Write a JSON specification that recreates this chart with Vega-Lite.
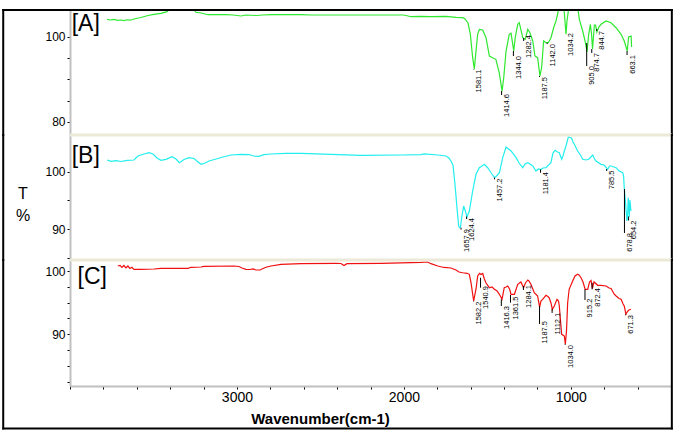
{
  "$schema": "https://vega.github.io/schema/vega-lite/v6.json",
  "padding": {"left": 1, "top": 8, "right": 0, "bottom": 0},
  "background": "white",
  "config": {"view": {"stroke": null}, "font": "Liberation Sans", "axis": {"labelOverlap": false, "labelBound": false, "labelFlush": false}},
  "spacing": 0,
  "bounds": "flush",
  "resolve": {"scale": {"y": "independent"}},
  "datasets": {
    "lineA": [
      {"wn":3778,"t":104.16},{"wn":3760,"t":104.0},{"wn":3736,"t":104.12},{"wn":3715,"t":103.9},{"wn":3695,"t":104.0},{"wn":3675,"t":103.85},{"wn":3659,"t":104.05},{"wn":3640,"t":103.95},{"wn":3617,"t":104.23},{"wn":3575,"t":104.59},{"wn":3533,"t":105.06},{"wn":3497,"t":105.34},{"wn":3455,"t":105.57},{"wn":3419,"t":105.95},{"wn":3395,"t":106.8},{"wn":3335,"t":107.3},{"wn":3263,"t":106.8},{"wn":3245,"t":105.81},{"wn":3215,"t":105.64},{"wn":3173,"t":105.24},{"wn":3125,"t":105.24},{"wn":3066,"t":105.24},{"wn":3024,"t":105.17},{"wn":2976,"t":104.94},{"wn":2946,"t":105.17},{"wn":2886,"t":105.06},{"wn":2844,"t":105.17},{"wn":2796,"t":105.24},{"wn":2616,"t":105.24},{"wn":2556,"t":105.17},{"wn":2377,"t":105.17},{"wn":2000,"t":105.17},{"wn":1957,"t":104.77},{"wn":1900,"t":104.85},{"wn":1838,"t":104.77},{"wn":1748,"t":104.87},{"wn":1688,"t":104.63},{"wn":1646,"t":104.54},{"wn":1634,"t":104.23},{"wn":1616,"t":103.29},{"wn":1602,"t":100.7},{"wn":1588,"t":95.13},{"wn":1578,"t":92.47},{"wn":1571,"t":95.53},{"wn":1558,"t":100.7},{"wn":1548,"t":101.76},{"wn":1528,"t":101.64},{"wn":1508,"t":99.83},{"wn":1488,"t":95.53},{"wn":1469,"t":95.13},{"wn":1449,"t":94.75},{"wn":1429,"t":91.6},{"wn":1412,"t":87.29},{"wn":1402,"t":90.42},{"wn":1388,"t":96.7},{"wn":1369,"t":100.63},{"wn":1358,"t":100.87},{"wn":1342,"t":96.7},{"wn":1333,"t":99.83},{"wn":1318,"t":102.99},{"wn":1309,"t":103.36},{"wn":1288,"t":99.83},{"wn":1273,"t":99.46},{"wn":1258,"t":101.81},{"wn":1245,"t":101.01},{"wn":1228,"t":99.06},{"wn":1215,"t":95.53},{"wn":1199,"t":95.13},{"wn":1185,"t":90.82},{"wn":1175,"t":92.77},{"wn":1163,"t":99.06},{"wn":1149,"t":98.66},{"wn":1135,"t":98.66},{"wn":1119,"t":99.83},{"wn":1103,"t":102.18},{"wn":1089,"t":103.76},{"wn":1075,"t":106.11},{"wn":1065,"t":107.3},{"wn":1047,"t":107.3},{"wn":1039,"t":105.71},{"wn":1029,"t":100.63},{"wn":1023,"t":103.76},{"wn":1015,"t":106.11},{"wn":1008,"t":107.3},{"wn":963,"t":107.3},{"wn":955,"t":105.88},{"wn":949,"t":104.16},{"wn":929,"t":101.41},{"wn":915,"t":99.06},{"wn":903,"t":96.54},{"wn":893,"t":100.63},{"wn":883,"t":102.99},{"wn":876,"t":100.7},{"wn":870,"t":97.17},{"wn":859,"t":102.82},{"wn":852,"t":102.82},{"wn":844,"t":101.17},{"wn":832,"t":102.35},{"wn":819,"t":102.99},{"wn":789,"t":103.76},{"wn":759,"t":103.36},{"wn":729,"t":102.18},{"wn":699,"t":100.63},{"wn":680,"t":99.06},{"wn":662,"t":96.7},{"wn":654,"t":100.0},{"wn":639,"t":100.23},{"wn":636,"t":97.64}
    ],
    "lineB": [
      {"wn":3778,"t":102.03},{"wn":3754,"t":101.8},{"wn":3724,"t":101.91},{"wn":3695,"t":101.77},{"wn":3659,"t":101.98},{"wn":3617,"t":102.03},{"wn":3593,"t":102.72},{"wn":3557,"t":103.07},{"wn":3527,"t":103.3},{"wn":3503,"t":103.07},{"wn":3479,"t":102.38},{"wn":3455,"t":101.98},{"wn":3425,"t":102.15},{"wn":3389,"t":102.6},{"wn":3365,"t":102.2},{"wn":3345,"t":101.56},{"wn":3317,"t":102.12},{"wn":3287,"t":102.43},{"wn":3257,"t":102.29},{"wn":3233,"t":101.68},{"wn":3215,"t":101.28},{"wn":3191,"t":101.51},{"wn":3167,"t":101.86},{"wn":3125,"t":102.2},{"wn":3084,"t":102.55},{"wn":3036,"t":102.9},{"wn":2976,"t":103.02},{"wn":2928,"t":102.98},{"wn":2898,"t":102.72},{"wn":2868,"t":102.67},{"wn":2838,"t":102.95},{"wn":2796,"t":103.07},{"wn":2706,"t":103.19},{"wn":2616,"t":103.19},{"wn":2437,"t":103.02},{"wn":2257,"t":102.85},{"wn":2017,"t":102.9},{"wn":1898,"t":102.95},{"wn":1878,"t":103.1},{"wn":1796,"t":102.9},{"wn":1748,"t":102.72},{"wn":1730,"t":102.38},{"wn":1715,"t":101.68},{"wn":1706,"t":101.16},{"wn":1694,"t":97.81},{"wn":1682,"t":93.75},{"wn":1672,"t":90.57},{"wn":1666,"t":90.28},{"wn":1661,"t":90.4},{"wn":1654,"t":92.01},{"wn":1642,"t":94.04},{"wn":1632,"t":93.17},{"wn":1622,"t":92.13},{"wn":1608,"t":93.17},{"wn":1588,"t":96.65},{"wn":1568,"t":99.55},{"wn":1548,"t":100.69},{"wn":1532,"t":100.99},{"wn":1518,"t":101.28},{"wn":1498,"t":100.69},{"wn":1478,"t":99.82},{"wn":1457,"t":98.96},{"wn":1445,"t":99.25},{"wn":1428,"t":99.82},{"wn":1408,"t":102.43},{"wn":1388,"t":104.29},{"wn":1373,"t":103.94},{"wn":1358,"t":103.59},{"wn":1328,"t":102.43},{"wn":1310,"t":101.51},{"wn":1288,"t":100.69},{"wn":1274,"t":101.33},{"wn":1258,"t":101.56},{"wn":1245,"t":101.33},{"wn":1228,"t":100.99},{"wn":1209,"t":100.12},{"wn":1194,"t":100.47},{"wn":1180,"t":100.38},{"wn":1166,"t":100.64},{"wn":1149,"t":100.69},{"wn":1119,"t":101.56},{"wn":1107,"t":103.24},{"wn":1095,"t":103.71},{"wn":1080,"t":103.42},{"wn":1069,"t":103.3},{"wn":1055,"t":102.15},{"wn":1047,"t":102.72},{"wn":1039,"t":103.59},{"wn":1029,"t":104.46},{"wn":1015,"t":106.02},{"wn":1005,"t":105.94},{"wn":995,"t":105.8},{"wn":987,"t":105.15},{"wn":979,"t":104.76},{"wn":959,"t":103.59},{"wn":939,"t":102.72},{"wn":929,"t":102.15},{"wn":909,"t":102.03},{"wn":891,"t":102.2},{"wn":869,"t":102.9},{"wn":858,"t":102.2},{"wn":849,"t":101.86},{"wn":819,"t":101.28},{"wn":801,"t":101.16},{"wn":779,"t":100.42},{"wn":768,"t":100.99},{"wn":759,"t":100.99},{"wn":729,"t":100.69},{"wn":711,"t":100.12},{"wn":689,"t":99.82},{"wn":684,"t":99.25},{"wn":680,"t":97.22},{"wn":670,"t":93.75},{"wn":664,"t":91.44},{"wn":660,"t":92.48},{"wn":656,"t":95.49},{"wn":650,"t":92.13},{"wn":646,"t":95.08},{"wn":640,"t":93.17}
    ],
    "lineC": [
      {"wn":3714,"t":100.79},{"wn":3700,"t":100.9},{"wn":3689,"t":100.56},{"wn":3677,"t":100.87},{"wn":3665,"t":100.48},{"wn":3653,"t":100.79},{"wn":3641,"t":100.4},{"wn":3629,"t":100.59},{"wn":3617,"t":100.27},{"wn":3575,"t":100.27},{"wn":3497,"t":100.32},{"wn":3455,"t":100.43},{"wn":3293,"t":100.43},{"wn":3275,"t":100.59},{"wn":3215,"t":100.63},{"wn":3197,"t":100.74},{"wn":3016,"t":100.79},{"wn":2988,"t":100.71},{"wn":2970,"t":100.48},{"wn":2946,"t":100.27},{"wn":2922,"t":100.24},{"wn":2904,"t":100.32},{"wn":2886,"t":100.16},{"wn":2862,"t":100.16},{"wn":2844,"t":100.4},{"wn":2826,"t":100.59},{"wn":2796,"t":100.79},{"wn":2736,"t":101.06},{"wn":2616,"t":101.16},{"wn":2407,"t":101.22},{"wn":2377,"t":101.19},{"wn":2359,"t":100.87},{"wn":2341,"t":101.16},{"wn":2137,"t":101.22},{"wn":2017,"t":101.27},{"wn":1898,"t":101.35},{"wn":1858,"t":101.42},{"wn":1838,"t":101.16},{"wn":1797,"t":100.79},{"wn":1760,"t":100.56},{"wn":1718,"t":100.48},{"wn":1688,"t":100.16},{"wn":1670,"t":99.84},{"wn":1648,"t":99.73},{"wn":1622,"t":99.64},{"wn":1608,"t":99.48},{"wn":1598,"t":98.15},{"wn":1582,"t":95.26},{"wn":1568,"t":97.16},{"wn":1558,"t":99.21},{"wn":1547,"t":99.64},{"wn":1538,"t":99.45},{"wn":1528,"t":99.61},{"wn":1518,"t":98.74},{"wn":1508,"t":98.11},{"wn":1488,"t":97.36},{"wn":1472,"t":97.47},{"wn":1458,"t":97.11},{"wn":1442,"t":96.84},{"wn":1428,"t":96.32},{"wn":1412,"t":95.53},{"wn":1399,"t":97.36},{"wn":1388,"t":97.47},{"wn":1378,"t":97.63},{"wn":1367,"t":97.16},{"wn":1358,"t":96.32},{"wn":1338,"t":96.32},{"wn":1318,"t":97.9},{"wn":1299,"t":98.27},{"wn":1283,"t":97.36},{"wn":1272,"t":98.11},{"wn":1258,"t":98.58},{"wn":1251,"t":98.42},{"wn":1239,"t":97.9},{"wn":1219,"t":96.57},{"wn":1199,"t":96.05},{"wn":1187,"t":94.31},{"wn":1179,"t":95.26},{"wn":1169,"t":95.53},{"wn":1149,"t":96.16},{"wn":1137,"t":95.97},{"wn":1129,"t":95.74},{"wn":1119,"t":94.95},{"wn":1111,"t":93.95},{"wn":1099,"t":94.47},{"wn":1083,"t":95.53},{"wn":1074,"t":95.26},{"wn":1069,"t":94.47},{"wn":1055,"t":90.0},{"wn":1039,"t":89.73},{"wn":1033,"t":88.42},{"wn":1026,"t":90.52},{"wn":1019,"t":94.99},{"wn":1010,"t":97.11},{"wn":989,"t":98.42},{"wn":975,"t":99.21},{"wn":959,"t":99.48},{"wn":951,"t":99.37},{"wn":939,"t":98.94},{"wn":927,"t":98.27},{"wn":914,"t":97.11},{"wn":899,"t":97.11},{"wn":888,"t":98.27},{"wn":879,"t":98.5},{"wn":871,"t":97.24},{"wn":861,"t":98.27},{"wn":839,"t":97.74},{"wn":819,"t":97.74},{"wn":789,"t":97.63},{"wn":771,"t":97.32},{"wn":759,"t":97.24},{"wn":741,"t":96.37},{"wn":729,"t":96.05},{"wn":711,"t":95.66},{"wn":699,"t":95.53},{"wn":687,"t":94.79},{"wn":680,"t":94.47},{"wn":670,"t":93.16},{"wn":661,"t":93.6},{"wn":652,"t":93.84},{"wn":640,"t":93.95}
    ],
    "peaksA": [
      {"wn":1581.1,"tt":92.47,"tb":92.35,"lt":92.35,"lab":"1581.1"},
      {"wn":1414.6,"tt":87.29,"tb":86.35,"lt":86.59,"lab":"1414.6"},
      {"wn":1344.0,"tt":96.7,"tb":95.53,"lt":95.53,"lab":"1344.0"},
      {"wn":1282.4,"tt":99.76,"tb":99.06,"lt":100.47,"lab":"1282.4"},
      {"wn":1187.5,"tt":90.82,"tb":90.59,"lt":90.59,"lab":"1187.5"},
      {"wn":1142.0,"tt":98.66,"tb":98.35,"lt":98.35,"lab":"1142.0"},
      {"wn":1034.2,"tt":100.7,"tb":100.7,"lt":100.94,"lab":"1034.2"},
      {"wn":905.0,"tt":98.59,"tb":93.17,"lt":93.17,"lab":"905.0"},
      {"wn":874.7,"tt":97.17,"tb":96.23,"lt":96.23,"lab":"874.7"},
      {"wn":844.7,"tt":101.88,"tb":101.41,"lt":101.41,"lab":"844.7"},
      {"wn":663.1,"tt":96.7,"tb":95.76,"lt":95.76,"lab":"663.1"}
    ],
    "peaksB": [
      {"wn":1657.9,"tt":90.28,"tb":89.96,"lt":90.05,"lab":"1657.9"},
      {"wn":1624.4,"tt":92.22,"tb":91.79,"lt":91.96,"lab":"1624.4"},
      {"wn":1457.2,"tt":98.96,"tb":98.68,"lt":98.82,"lab":"1457.2"},
      {"wn":1181.4,"tt":100.38,"tb":99.82,"lt":99.95,"lab":"1181.4"},
      {"wn":785.5,"tt":100.47,"tb":100.12,"lt":100.21,"lab":"785.5"},
      {"wn":678.8,"tt":96.99,"tb":89.36,"lt":89.36,"lab":"678.8"},
      {"wn":654.2,"tt":92.22,"tb":91.53,"lt":91.53,"lab":"654.2"}
    ],
    "peaksC": [
      {"wn":1582.2,"tt":95.26,"tb":95.18,"lt":95.18,"lab":"1582.2"},
      {"wn":1540.9,"tt":98.94,"tb":97.36,"lt":97.63,"lab":"1540.9"},
      {"wn":1416.3,"tt":95.53,"tb":94.47,"lt":94.47,"lab":"1416.3"},
      {"wn":1361.5,"tt":96.21,"tb":94.99,"lt":95.97,"lab":"1361.5"},
      {"wn":1284.1,"tt":97.63,"tb":97.0,"lt":97.79,"lab":"1284.1"},
      {"wn":1187.5,"tt":94.47,"tb":91.63,"lt":92.1,"lab":"1187.5"},
      {"wn":1112.1,"tt":94.0,"tb":93.37,"lt":93.41,"lab":"1112.1"},
      {"wn":1034.0,"tt":88.42,"tb":88.31,"lt":88.31,"lab":"1034.0"},
      {"wn":915.2,"tt":97.11,"tb":95.42,"lt":95.63,"lab":"915.2"},
      {"wn":872.4,"tt":98.15,"tb":97.11,"lt":97.32,"lab":"872.4"},
      {"wn":671.3,"tt":93.16,"tb":93.05,"lt":93.05,"lab":"671.3"}
    ],
    "panelA": [{"name":"[A]","wn":3990,"t":103.06}],
    "panelB": [{"name":"[B]","wn":3990,"t":102.81}],
    "panelC": [{"name":"[C]","wn":3955,"t":99.05}],
    "one": [{}]
  },
  "vconcat": [
    {
      "width": 601, "height": 125,
      "layer": [
        {"data": {"name": "lineA"}, "mark": {"type": "line", "color": "#2ee82e", "strokeWidth": 1.2, "clip": true},
         "encoding": {"x": {"field": "wn", "type": "quantitative", "scale": {"domain": [400, 4000], "reverse": true, "nice": false, "zero": false}, "axis": null},
                      "y": {"field": "t", "type": "quantitative", "scale": {"domain": [76.94, 106.35], "nice": false, "zero": false},
                            "axis": {"values": [80, 85, 90, 95, 100], "labelExpr": "datum.value == 100 ? '100' : datum.value == 80 ? '80' : ''", "title": null, "grid": false, "domainColor": "#c0c0c0", "domainWidth": 2, "tickColor": "black", "tickSize": 3, "labelFontSize": 12, "labelPadding": 2, "labelColor": "black", "labelOverlap": false}}}},
        {"data": {"name": "one"}, "mark": {"type": "rule", "color": "black", "strokeWidth": 2, "strokeCap": "square"},
         "encoding": {"x": {"datum": 4400, "type": "quantitative", "axis": null}, "x2": {"datum": 395},
                      "y": {"datum": 106.35, "type": "quantitative", "axis": {"values": [80, 85, 90, 95, 100], "labelExpr": "datum.value == 100 ? '100' : datum.value == 80 ? '80' : ''", "title": null, "grid": false, "domainColor": "#c0c0c0", "domainWidth": 2, "tickColor": "black", "tickSize": 3, "labelFontSize": 12, "labelPadding": 2, "labelColor": "black", "labelOverlap": false}}}},
        {"data": {"name": "one"}, "mark": {"type": "rule", "color": "black", "strokeWidth": 2, "strokeCap": "square"},
         "encoding": {"x": {"datum": 4400, "type": "quantitative", "axis": null},
                      "y": {"datum": 76.94, "type": "quantitative", "axis": {"values": [80, 85, 90, 95, 100], "labelExpr": "datum.value == 100 ? '100' : datum.value == 80 ? '80' : ''", "title": null, "grid": false, "domainColor": "#c0c0c0", "domainWidth": 2, "tickColor": "black", "tickSize": 3, "labelFontSize": 12, "labelPadding": 2, "labelColor": "black", "labelOverlap": false}}, "y2": {"datum": 106.35}}},
        {"data": {"name": "one"}, "mark": {"type": "rule", "color": "black", "strokeWidth": 2, "strokeCap": "square"},
         "encoding": {"x": {"datum": 395, "type": "quantitative", "axis": null},
                      "y": {"datum": 76.94, "type": "quantitative", "axis": {"values": [80, 85, 90, 95, 100], "labelExpr": "datum.value == 100 ? '100' : datum.value == 80 ? '80' : ''", "title": null, "grid": false, "domainColor": "#c0c0c0", "domainWidth": 2, "tickColor": "black", "tickSize": 3, "labelFontSize": 12, "labelPadding": 2, "labelColor": "black", "labelOverlap": false}}, "y2": {"datum": 106.35}}},
        {"data": {"name": "peaksA"}, "mark": {"type": "rule", "color": "black", "strokeWidth": 1},
         "encoding": {"x": {"field": "wn", "type": "quantitative", "axis": null},
                      "y": {"field": "tt", "type": "quantitative", "axis": {"values": [80, 85, 90, 95, 100], "labelExpr": "datum.value == 100 ? '100' : datum.value == 80 ? '80' : ''", "title": null, "grid": false, "domainColor": "#c0c0c0", "domainWidth": 2, "tickColor": "black", "tickSize": 3, "labelFontSize": 12, "labelPadding": 2, "labelColor": "black", "labelOverlap": false}}, "y2": {"field": "tb"}}},
        {"data": {"name": "peaksA"}, "mark": {"type": "text", "angle": 270, "align": "right", "baseline": "top", "fontSize": 7.5, "dy": 1.5, "color": "black"},
         "encoding": {"x": {"field": "wn", "type": "quantitative", "axis": null},
                      "y": {"field": "lt", "type": "quantitative", "axis": {"values": [80, 85, 90, 95, 100], "labelExpr": "datum.value == 100 ? '100' : datum.value == 80 ? '80' : ''", "title": null, "grid": false, "domainColor": "#c0c0c0", "domainWidth": 2, "tickColor": "black", "tickSize": 3, "labelFontSize": 12, "labelPadding": 2, "labelColor": "black", "labelOverlap": false}}, "text": {"field": "lab"}}},
        {"data": {"name": "panelA"}, "mark": {"type": "text", "align": "left", "baseline": "middle", "fontSize": 23, "color": "black"},
         "encoding": {"x": {"field": "wn", "type": "quantitative", "axis": null},
                      "y": {"field": "t", "type": "quantitative", "axis": {"values": [80, 85, 90, 95, 100], "labelExpr": "datum.value == 100 ? '100' : datum.value == 80 ? '80' : ''", "title": null, "grid": false, "domainColor": "#c0c0c0", "domainWidth": 2, "tickColor": "black", "tickSize": 3, "labelFontSize": 12, "labelPadding": 2, "labelColor": "black", "labelOverlap": false}}, "text": {"field": "name"}}}
      ]
    },
    {
      "width": 601, "height": 125,
      "layer": [
        {"data": {"name": "lineB"}, "mark": {"type": "line", "color": "#22eeee", "strokeWidth": 1.2, "clip": true},
         "encoding": {"x": {"field": "wn", "type": "quantitative", "scale": {"domain": [400, 4000], "reverse": true, "nice": false, "zero": false}, "axis": null},
                      "y": {"field": "t", "type": "quantitative", "scale": {"domain": [84.67, 106.37], "nice": false, "zero": false},
                            "axis": {"values": [85, 90, 95, 100], "labelExpr": "datum.value == 100 ? '100' : datum.value == 90 ? '90' : ''", "title": ["T", "%"], "titleAngle": 0, "titleFontSize": 16, "titleFontWeight": "normal", "titleColor": "black", "titleX": -47.5, "titleY": 50, "titleAlign": "center", "titleBaseline": "top", "titleLineHeight": 22, "grid": false, "domainColor": "#c0c0c0", "domainWidth": 2, "tickColor": "black", "tickSize": 3, "labelFontSize": 12, "labelPadding": 2, "labelColor": "black", "labelOverlap": false}}}},
        {"data": {"name": "one"}, "mark": {"type": "rule", "color": "#ece9d8", "strokeWidth": 3},
         "encoding": {"x": {"datum": 4000, "type": "quantitative", "axis": null}, "x2": {"datum": 395},
                      "y": {"datum": 106.37, "type": "quantitative", "axis": {"values": [85, 90, 95, 100], "labelExpr": "datum.value == 100 ? '100' : datum.value == 90 ? '90' : ''", "title": ["T", "%"], "titleAngle": 0, "titleFontSize": 16, "titleFontWeight": "normal", "titleColor": "black", "titleX": -47.5, "titleY": 50, "titleAlign": "center", "titleBaseline": "top", "titleLineHeight": 22, "grid": false, "domainColor": "#c0c0c0", "domainWidth": 2, "tickColor": "black", "tickSize": 3, "labelFontSize": 12, "labelPadding": 2, "labelColor": "black", "labelOverlap": false}}}},
        {"data": {"name": "one"}, "mark": {"type": "rule", "color": "black", "strokeWidth": 2, "strokeCap": "square"},
         "encoding": {"x": {"datum": 4400, "type": "quantitative", "axis": null},
                      "y": {"datum": 84.67, "type": "quantitative", "axis": {"values": [85, 90, 95, 100], "labelExpr": "datum.value == 100 ? '100' : datum.value == 90 ? '90' : ''", "title": ["T", "%"], "titleAngle": 0, "titleFontSize": 16, "titleFontWeight": "normal", "titleColor": "black", "titleX": -47.5, "titleY": 50, "titleAlign": "center", "titleBaseline": "top", "titleLineHeight": 22, "grid": false, "domainColor": "#c0c0c0", "domainWidth": 2, "tickColor": "black", "tickSize": 3, "labelFontSize": 12, "labelPadding": 2, "labelColor": "black", "labelOverlap": false}}, "y2": {"datum": 106.37}}},
        {"data": {"name": "one"}, "mark": {"type": "rule", "color": "black", "strokeWidth": 2, "strokeCap": "square"},
         "encoding": {"x": {"datum": 395, "type": "quantitative", "axis": null},
                      "y": {"datum": 84.67, "type": "quantitative", "axis": {"values": [85, 90, 95, 100], "labelExpr": "datum.value == 100 ? '100' : datum.value == 90 ? '90' : ''", "title": ["T", "%"], "titleAngle": 0, "titleFontSize": 16, "titleFontWeight": "normal", "titleColor": "black", "titleX": -47.5, "titleY": 50, "titleAlign": "center", "titleBaseline": "top", "titleLineHeight": 22, "grid": false, "domainColor": "#c0c0c0", "domainWidth": 2, "tickColor": "black", "tickSize": 3, "labelFontSize": 12, "labelPadding": 2, "labelColor": "black", "labelOverlap": false}}, "y2": {"datum": 106.37}}},
        {"data": {"name": "peaksB"}, "mark": {"type": "rule", "color": "black", "strokeWidth": 1},
         "encoding": {"x": {"field": "wn", "type": "quantitative", "axis": null},
                      "y": {"field": "tt", "type": "quantitative", "axis": {"values": [85, 90, 95, 100], "labelExpr": "datum.value == 100 ? '100' : datum.value == 90 ? '90' : ''", "title": ["T", "%"], "titleAngle": 0, "titleFontSize": 16, "titleFontWeight": "normal", "titleColor": "black", "titleX": -47.5, "titleY": 50, "titleAlign": "center", "titleBaseline": "top", "titleLineHeight": 22, "grid": false, "domainColor": "#c0c0c0", "domainWidth": 2, "tickColor": "black", "tickSize": 3, "labelFontSize": 12, "labelPadding": 2, "labelColor": "black", "labelOverlap": false}}, "y2": {"field": "tb"}}},
        {"data": {"name": "peaksB"}, "mark": {"type": "text", "angle": 270, "align": "right", "baseline": "top", "fontSize": 7.5, "dy": 1.5, "color": "black"},
         "encoding": {"x": {"field": "wn", "type": "quantitative", "axis": null},
                      "y": {"field": "lt", "type": "quantitative", "axis": {"values": [85, 90, 95, 100], "labelExpr": "datum.value == 100 ? '100' : datum.value == 90 ? '90' : ''", "title": ["T", "%"], "titleAngle": 0, "titleFontSize": 16, "titleFontWeight": "normal", "titleColor": "black", "titleX": -47.5, "titleY": 50, "titleAlign": "center", "titleBaseline": "top", "titleLineHeight": 22, "grid": false, "domainColor": "#c0c0c0", "domainWidth": 2, "tickColor": "black", "tickSize": 3, "labelFontSize": 12, "labelPadding": 2, "labelColor": "black", "labelOverlap": false}}, "text": {"field": "lab"}}},
        {"data": {"name": "panelB"}, "mark": {"type": "text", "align": "left", "baseline": "middle", "fontSize": 23, "color": "black"},
         "encoding": {"x": {"field": "wn", "type": "quantitative", "axis": null},
                      "y": {"field": "t", "type": "quantitative", "axis": {"values": [85, 90, 95, 100], "labelExpr": "datum.value == 100 ? '100' : datum.value == 90 ? '90' : ''", "title": ["T", "%"], "titleAngle": 0, "titleFontSize": 16, "titleFontWeight": "normal", "titleColor": "black", "titleX": -47.5, "titleY": 50, "titleAlign": "center", "titleBaseline": "top", "titleLineHeight": 22, "grid": false, "domainColor": "#c0c0c0", "domainWidth": 2, "tickColor": "black", "tickSize": 3, "labelFontSize": 12, "labelPadding": 2, "labelColor": "black", "labelOverlap": false}}, "text": {"field": "name"}}}
      ]
    },
    {
      "width": 601, "height": 126,
      "encoding": {},
      "layer": [
        {"data": {"name": "lineC"}, "mark": {"type": "line", "color": "#f01010", "strokeWidth": 1.2, "clip": true},
         "encoding": {"x": {"field": "wn", "type": "quantitative", "scale": {"domain": [400, 4000], "reverse": true, "nice": false, "zero": false},
                            "axis": {"values": [400, 600, 800, 1000, 1200, 1400, 1600, 1800, 2000, 2200, 2400, 2600, 2800, 3000, 3200, 3400, 3600, 3800, 4000], "labelExpr": "datum.value == 1000 ? '1000' : datum.value == 2000 ? '2000' : datum.value == 3000 ? '3000' : ''", "title": "Wavenumber(cm-1)", "titleFontSize": 15, "titleFontWeight": "bold", "titleColor": "black", "titleX": 250, "titleY": 37, "titleAlign": "center", "titleBaseline": "alphabetic", "grid": false, "domainColor": "#c0c0c0", "domainWidth": 2, "tickColor": "black", "tickSize": 3, "labelFontSize": 14, "labelPadding": 1, "labelColor": "black", "labelFlush": false, "labelOverlap": false}},
                      "y": {"field": "t", "type": "quantitative", "scale": {"domain": [81.83, 101.74], "nice": false, "zero": false},
                            "axis": {"values": [82.5, 85, 87.5, 90, 92.5, 95, 97.5, 100], "labelExpr": "datum.value == 100 ? '100' : datum.value == 90 ? '90' : ''", "title": null, "grid": false, "domainColor": "#c0c0c0", "domainWidth": 2, "tickColor": "black", "tickSize": 3, "labelFontSize": 12, "labelPadding": 2, "labelColor": "black", "labelOverlap": false}}}},
        {"data": {"name": "one"}, "mark": {"type": "rule", "color": "#ece9d8", "strokeWidth": 3},
         "encoding": {"x": {"datum": 4000, "type": "quantitative", "axis": {"values": [400, 600, 800, 1000, 1200, 1400, 1600, 1800, 2000, 2200, 2400, 2600, 2800, 3000, 3200, 3400, 3600, 3800, 4000], "labelExpr": "datum.value == 1000 ? '1000' : datum.value == 2000 ? '2000' : datum.value == 3000 ? '3000' : ''", "title": "Wavenumber(cm-1)", "titleFontSize": 15, "titleFontWeight": "bold", "titleColor": "black", "titleX": 250, "titleY": 37, "titleAlign": "center", "titleBaseline": "alphabetic", "grid": false, "domainColor": "#c0c0c0", "domainWidth": 2, "tickColor": "black", "tickSize": 3, "labelFontSize": 14, "labelPadding": 1, "labelColor": "black", "labelFlush": false, "labelOverlap": false}}, "x2": {"datum": 395},
                      "y": {"datum": 101.74, "type": "quantitative", "axis": {"values": [82.5, 85, 87.5, 90, 92.5, 95, 97.5, 100], "labelExpr": "datum.value == 100 ? '100' : datum.value == 90 ? '90' : ''", "title": null, "grid": false, "domainColor": "#c0c0c0", "domainWidth": 2, "tickColor": "black", "tickSize": 3, "labelFontSize": 12, "labelPadding": 2, "labelColor": "black", "labelOverlap": false}}}},
        {"data": {"name": "one"}, "mark": {"type": "rule", "color": "black", "strokeWidth": 2, "strokeCap": "square"},
         "encoding": {"x": {"datum": 4400, "type": "quantitative", "axis": {"values": [400, 600, 800, 1000, 1200, 1400, 1600, 1800, 2000, 2200, 2400, 2600, 2800, 3000, 3200, 3400, 3600, 3800, 4000], "labelExpr": "datum.value == 1000 ? '1000' : datum.value == 2000 ? '2000' : datum.value == 3000 ? '3000' : ''", "title": "Wavenumber(cm-1)", "titleFontSize": 15, "titleFontWeight": "bold", "titleColor": "black", "titleX": 250, "titleY": 37, "titleAlign": "center", "titleBaseline": "alphabetic", "grid": false, "domainColor": "#c0c0c0", "domainWidth": 2, "tickColor": "black", "tickSize": 3, "labelFontSize": 14, "labelPadding": 1, "labelColor": "black", "labelFlush": false, "labelOverlap": false}},
                      "y": {"datum": 75.12, "type": "quantitative", "axis": {"values": [82.5, 85, 87.5, 90, 92.5, 95, 97.5, 100], "labelExpr": "datum.value == 100 ? '100' : datum.value == 90 ? '90' : ''", "title": null, "grid": false, "domainColor": "#c0c0c0", "domainWidth": 2, "tickColor": "black", "tickSize": 3, "labelFontSize": 12, "labelPadding": 2, "labelColor": "black", "labelOverlap": false}}, "y2": {"datum": 101.74}}},
        {"data": {"name": "one"}, "mark": {"type": "rule", "color": "black", "strokeWidth": 2, "strokeCap": "square"},
         "encoding": {"x": {"datum": 395, "type": "quantitative", "axis": {"values": [400, 600, 800, 1000, 1200, 1400, 1600, 1800, 2000, 2200, 2400, 2600, 2800, 3000, 3200, 3400, 3600, 3800, 4000], "labelExpr": "datum.value == 1000 ? '1000' : datum.value == 2000 ? '2000' : datum.value == 3000 ? '3000' : ''", "title": "Wavenumber(cm-1)", "titleFontSize": 15, "titleFontWeight": "bold", "titleColor": "black", "titleX": 250, "titleY": 37, "titleAlign": "center", "titleBaseline": "alphabetic", "grid": false, "domainColor": "#c0c0c0", "domainWidth": 2, "tickColor": "black", "tickSize": 3, "labelFontSize": 14, "labelPadding": 1, "labelColor": "black", "labelFlush": false, "labelOverlap": false}},
                      "y": {"datum": 75.12, "type": "quantitative", "axis": {"values": [82.5, 85, 87.5, 90, 92.5, 95, 97.5, 100], "labelExpr": "datum.value == 100 ? '100' : datum.value == 90 ? '90' : ''", "title": null, "grid": false, "domainColor": "#c0c0c0", "domainWidth": 2, "tickColor": "black", "tickSize": 3, "labelFontSize": 12, "labelPadding": 2, "labelColor": "black", "labelOverlap": false}}, "y2": {"datum": 101.74}}},
        {"data": {"name": "one"}, "mark": {"type": "rule", "color": "black", "strokeWidth": 2, "strokeCap": "square"},
         "encoding": {"x": {"datum": 4400, "type": "quantitative", "axis": {"values": [400, 600, 800, 1000, 1200, 1400, 1600, 1800, 2000, 2200, 2400, 2600, 2800, 3000, 3200, 3400, 3600, 3800, 4000], "labelExpr": "datum.value == 1000 ? '1000' : datum.value == 2000 ? '2000' : datum.value == 3000 ? '3000' : ''", "title": "Wavenumber(cm-1)", "titleFontSize": 15, "titleFontWeight": "bold", "titleColor": "black", "titleX": 250, "titleY": 37, "titleAlign": "center", "titleBaseline": "alphabetic", "grid": false, "domainColor": "#c0c0c0", "domainWidth": 2, "tickColor": "black", "tickSize": 3, "labelFontSize": 14, "labelPadding": 1, "labelColor": "black", "labelFlush": false, "labelOverlap": false}}, "x2": {"datum": 395},
                      "y": {"datum": 75.12, "type": "quantitative", "axis": {"values": [82.5, 85, 87.5, 90, 92.5, 95, 97.5, 100], "labelExpr": "datum.value == 100 ? '100' : datum.value == 90 ? '90' : ''", "title": null, "grid": false, "domainColor": "#c0c0c0", "domainWidth": 2, "tickColor": "black", "tickSize": 3, "labelFontSize": 12, "labelPadding": 2, "labelColor": "black", "labelOverlap": false}}}},
        {"data": {"name": "peaksC"}, "mark": {"type": "rule", "color": "black", "strokeWidth": 1},
         "encoding": {"x": {"field": "wn", "type": "quantitative", "axis": {"values": [400, 600, 800, 1000, 1200, 1400, 1600, 1800, 2000, 2200, 2400, 2600, 2800, 3000, 3200, 3400, 3600, 3800, 4000], "labelExpr": "datum.value == 1000 ? '1000' : datum.value == 2000 ? '2000' : datum.value == 3000 ? '3000' : ''", "title": "Wavenumber(cm-1)", "titleFontSize": 15, "titleFontWeight": "bold", "titleColor": "black", "titleX": 250, "titleY": 37, "titleAlign": "center", "titleBaseline": "alphabetic", "grid": false, "domainColor": "#c0c0c0", "domainWidth": 2, "tickColor": "black", "tickSize": 3, "labelFontSize": 14, "labelPadding": 1, "labelColor": "black", "labelFlush": false, "labelOverlap": false}},
                      "y": {"field": "tt", "type": "quantitative", "axis": {"values": [82.5, 85, 87.5, 90, 92.5, 95, 97.5, 100], "labelExpr": "datum.value == 100 ? '100' : datum.value == 90 ? '90' : ''", "title": null, "grid": false, "domainColor": "#c0c0c0", "domainWidth": 2, "tickColor": "black", "tickSize": 3, "labelFontSize": 12, "labelPadding": 2, "labelColor": "black", "labelOverlap": false}}, "y2": {"field": "tb"}}},
        {"data": {"name": "peaksC"}, "mark": {"type": "text", "angle": 270, "align": "right", "baseline": "top", "fontSize": 7.5, "dy": 1.5, "color": "black"},
         "encoding": {"x": {"field": "wn", "type": "quantitative", "axis": {"values": [400, 600, 800, 1000, 1200, 1400, 1600, 1800, 2000, 2200, 2400, 2600, 2800, 3000, 3200, 3400, 3600, 3800, 4000], "labelExpr": "datum.value == 1000 ? '1000' : datum.value == 2000 ? '2000' : datum.value == 3000 ? '3000' : ''", "title": "Wavenumber(cm-1)", "titleFontSize": 15, "titleFontWeight": "bold", "titleColor": "black", "titleX": 250, "titleY": 37, "titleAlign": "center", "titleBaseline": "alphabetic", "grid": false, "domainColor": "#c0c0c0", "domainWidth": 2, "tickColor": "black", "tickSize": 3, "labelFontSize": 14, "labelPadding": 1, "labelColor": "black", "labelFlush": false, "labelOverlap": false}},
                      "y": {"field": "lt", "type": "quantitative", "axis": {"values": [82.5, 85, 87.5, 90, 92.5, 95, 97.5, 100], "labelExpr": "datum.value == 100 ? '100' : datum.value == 90 ? '90' : ''", "title": null, "grid": false, "domainColor": "#c0c0c0", "domainWidth": 2, "tickColor": "black", "tickSize": 3, "labelFontSize": 12, "labelPadding": 2, "labelColor": "black", "labelOverlap": false}}, "text": {"field": "lab"}}},
        {"data": {"name": "panelC"}, "mark": {"type": "text", "align": "left", "baseline": "middle", "fontSize": 23, "color": "black"},
         "encoding": {"x": {"field": "wn", "type": "quantitative", "axis": {"values": [400, 600, 800, 1000, 1200, 1400, 1600, 1800, 2000, 2200, 2400, 2600, 2800, 3000, 3200, 3400, 3600, 3800, 4000], "labelExpr": "datum.value == 1000 ? '1000' : datum.value == 2000 ? '2000' : datum.value == 3000 ? '3000' : ''", "title": "Wavenumber(cm-1)", "titleFontSize": 15, "titleFontWeight": "bold", "titleColor": "black", "titleX": 250, "titleY": 37, "titleAlign": "center", "titleBaseline": "alphabetic", "grid": false, "domainColor": "#c0c0c0", "domainWidth": 2, "tickColor": "black", "tickSize": 3, "labelFontSize": 14, "labelPadding": 1, "labelColor": "black", "labelFlush": false, "labelOverlap": false}},
                      "y": {"field": "t", "type": "quantitative", "axis": {"values": [82.5, 85, 87.5, 90, 92.5, 95, 97.5, 100], "labelExpr": "datum.value == 100 ? '100' : datum.value == 90 ? '90' : ''", "title": null, "grid": false, "domainColor": "#c0c0c0", "domainWidth": 2, "tickColor": "black", "tickSize": 3, "labelFontSize": 12, "labelPadding": 2, "labelColor": "black", "labelOverlap": false}}, "text": {"field": "name"}}}
      ]
    }
  ]
}
